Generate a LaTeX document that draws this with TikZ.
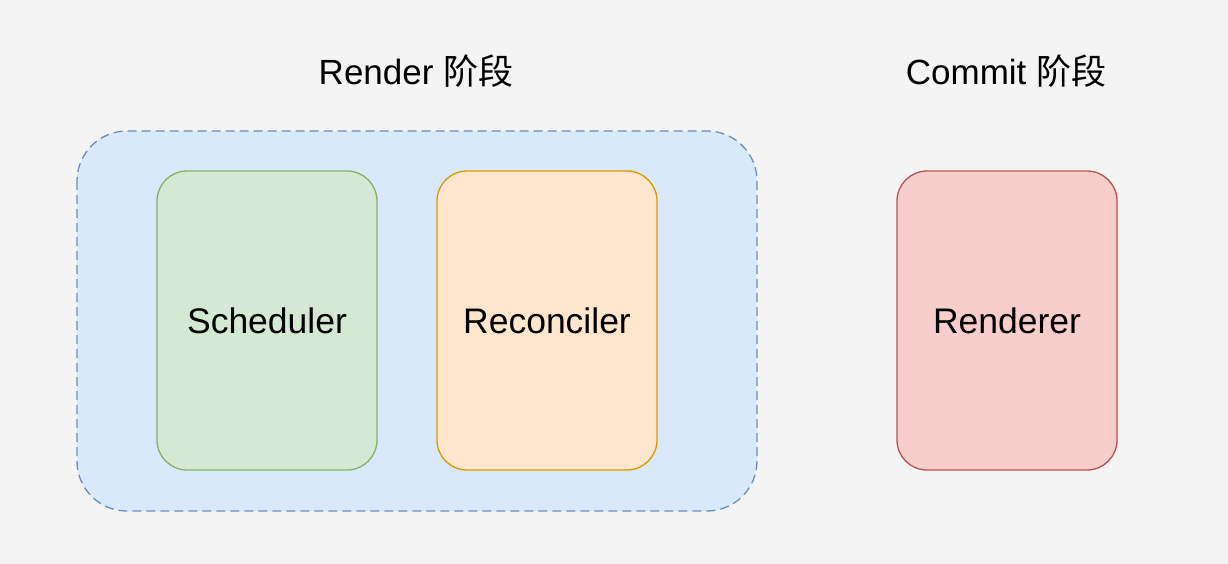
\documentclass[tikz,border=0pt]{standalone}
\usepackage{fontspec}
\setmainfont{Liberation Sans}
\newfontfamily\cjk{Noto Sans CJK SC}
\definecolor{bg}{HTML}{F4F4F4}
\definecolor{blueF}{HTML}{DAE8FC}\definecolor{blueS}{HTML}{6C8EBF}
\definecolor{greenF}{HTML}{D5E8D4}\definecolor{greenS}{HTML}{82B366}
\definecolor{orangeF}{HTML}{FFE6CC}\definecolor{orangeS}{HTML}{D79B00}
\definecolor{redF}{HTML}{F8CECC}\definecolor{redS}{HTML}{B85450}
\tikzset{
  box/.style={draw, line width=1.3pt, rounded corners=30pt, minimum width=220pt, minimum height=299pt, inner sep=0pt, font=\fontsize{35.5}{42}\selectfont},
  title/.style={font=\fontsize{35}{42}\selectfont, inner sep=0pt, anchor=center},
  group/.style={draw=blueS, fill=blueF, line width=1.3pt, dash pattern=on 9pt off 5pt, rounded corners=50pt}
}
\begin{document}
\begin{tikzpicture}[x=1pt,y=-1pt]
\fill[bg] (0,0) rectangle (1228,564);
\useasboundingbox (0,0) rectangle (1228,564);
\draw[group] (77,131) rectangle (757,511);
\node[box, fill=greenF, draw=greenS] (sched) at (267,320.5) {Scheduler};
\node[box, fill=orangeF, draw=orangeS] (recon) at (547,320.5) {Reconciler};
\node[box, fill=redF, draw=redS] (rend) at (1007,320.5) {Renderer};
\node[title] (t1) at (416,71) {Render {\cjk 阶段}};
\node[title] (t2) at (1006,71) {Commit {\cjk 阶段}};
\end{tikzpicture}
\end{document}
